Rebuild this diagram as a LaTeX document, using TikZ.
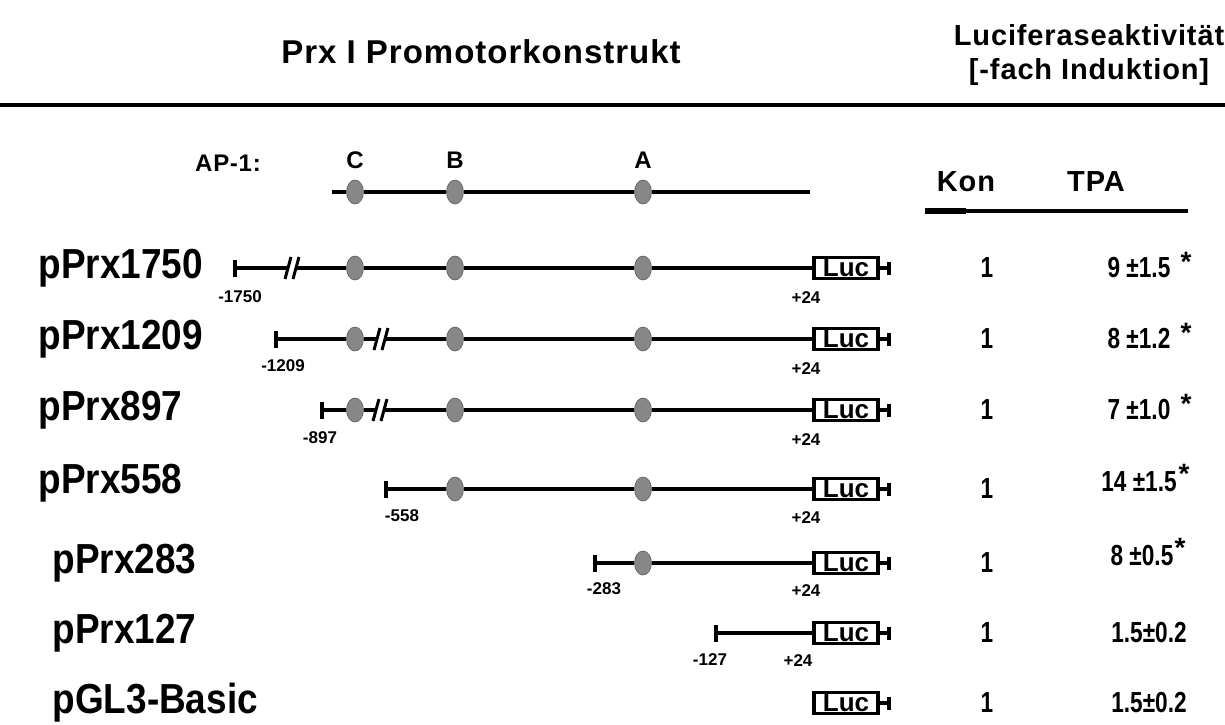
\documentclass[tikz,border=0pt]{standalone}
\usepackage{fontspec}
\setmainfont{Liberation Sans}
\newfontfamily\labelfont{Liberation Sans}[FakeStretch=0.88]
\newfontfamily\valfont{Liberation Sans}[FakeStretch=0.78]
\newfontfamily\widefont{Liberation Sans}[LetterSpace=3]
\usetikzlibrary{shapes.geometric,arrows.meta}

\definecolor{sitegray}{RGB}{135,135,135}

\tikzset{
  dna/.style={line width=4pt},
  site/.style={ellipse, draw=gray!70!black, line width=0.6pt, fill=sitegray, minimum width=17pt, minimum height=24pt, inner sep=0pt},
  lucbox/.style={draw, line width=3.5pt, minimum width=64pt, minimum height=21pt, inner sep=0pt, font=\bfseries\fontsize{26}{26}\selectfont},
  cname/.style={anchor=west, font=\labelfont\bfseries\fontsize{42}{42}\selectfont},
  bplabel/.style={font=\bfseries\fontsize{17}{17}\selectfont},
  val/.style={font=\valfont\bfseries\fontsize{29}{29}\selectfont},
  sigmark/.style={font=\bfseries\fontsize{28}{28}\selectfont},
  head/.style={font=\widefont\bfseries\fontsize{24}{24}\selectfont}
}

% break mark on a line
\newcommand{\brkmark}[1]{%
  \begin{scope}[shift={(#1)}]
    \fill[white] (-4,10) -- (2,10) -- (4,-10) -- (-2,-10) -- cycle;
    \draw[line width=3pt] (-7,11) -- (-1,-11);
    \draw[line width=3pt] (1,11) -- (7,-11);
  \end{scope}}

\begin{document}
\begin{tikzpicture}[x=1pt, y=-1pt]
  \useasboundingbox (0,0) rectangle (1225,724);

  % headings
  \node[font=\widefont\bfseries\fontsize{33}{33}\selectfont] (title) at (481,52) {Prx I Promotorkonstrukt};
  \node[font=\widefont\bfseries\fontsize{29}{34}\selectfont, align=center] (luci) at (1089,55) {Luciferaseaktivität\\{}{[}-fach Induktion{]}};
  \coordinate (r0) at (0,105);
  \coordinate (r1) at (1225,105);
  \draw[dna] (r0) -- (r1);

  % AP-1 sites
  \node[head] (ap) at (228,163) {AP-1:};
  \node[head] (lc) at (355,160) {C};
  \node[head] (lb) at (455,160) {B};
  \node[head] (la) at (643,160) {A};
  \coordinate (t0) at (332,192);
  \coordinate (t9) at (810,192);
  \node[site] (ct) at (355,192) {};
  \node[site] (bt) at (455,192) {};
  \node[site] (at) at (643,192) {};
  \draw[dna] (t0) -- (ct) -- (bt) -- (at) -- (t9);

  % columns
  \node[font=\widefont\bfseries\fontsize{29}{29}\selectfont] (kon) at (966,182) {Kon};
  \node[font=\widefont\bfseries\fontsize{29}{29}\selectfont] (tpa) at (1096,182) {TPA};
  \coordinate (u0) at (925,211);
  \coordinate (um) at (966,211);
  \coordinate (u1) at (1188,211);
  \draw[dna] (u0) -- (u1);
  \draw[line width=6pt] (u0) -- (um);

  % pPrx1750
  \node[cname] (n1) at (35,268) {pPrx1750};
  \coordinate (s1) at (233,268);
  \node[site] (c1) at (355,268) {};
  \node[site] (b1) at (455,268) {};
  \node[site] (a1) at (643,268) {};
  \node[lucbox] (luc1) at (846,268) {Luc};
  \coordinate (e1) at (891,268);
  \draw[dna, {Bar[width=17pt]}-] (s1) -- (c1);
  \draw[dna] (c1) -- (b1) -- (a1) -- (luc1);
  \draw[dna, -{Bar[width=13pt]}] (luc1) -- (e1);
  \brkmark{292,268}
  \node[bplabel] (p1) at (240,297) {-1750};
  \node[bplabel] (q1) at (806,298) {+24};
  \node[val] (k1) at (987,268) {1};
  \node[val] (v1) at (1139,268) {9 ±1.5};
  \node[sigmark] (x1) at (1186,262) {*};

  % pPrx1209
  \node[cname] (n2) at (35,339) {pPrx1209};
  \coordinate (s2) at (274,339);
  \node[site] (c2) at (355,339) {};
  \node[site] (b2) at (455,339) {};
  \node[site] (a2) at (643,339) {};
  \node[lucbox] (luc2) at (846,339) {Luc};
  \coordinate (e2) at (891,339);
  \draw[dna, {Bar[width=17pt]}-] (s2) -- (c2);
  \draw[dna] (c2) -- (b2) -- (a2) -- (luc2);
  \draw[dna, -{Bar[width=13pt]}] (luc2) -- (e2);
  \brkmark{381,339}
  \node[bplabel] (p2) at (283,366) {-1209};
  \node[bplabel] (q2) at (806,369) {+24};
  \node[val] (k2) at (987,339) {1};
  \node[val] (v2) at (1139,339) {8 ±1.2};
  \node[sigmark] (x2) at (1186,333) {*};

  % pPrx897
  \node[cname] (n3) at (35,410) {pPrx897};
  \coordinate (s3) at (320,410);
  \node[site] (c3) at (355,410) {};
  \node[site] (b3) at (455,410) {};
  \node[site] (a3) at (643,410) {};
  \node[lucbox] (luc3) at (846,410) {Luc};
  \coordinate (e3) at (891,410);
  \draw[dna, {Bar[width=17pt]}-] (s3) -- (c3);
  \draw[dna] (c3) -- (b3) -- (a3) -- (luc3);
  \draw[dna, -{Bar[width=13pt]}] (luc3) -- (e3);
  \brkmark{380,410}
  \node[bplabel] (p3) at (320,438) {-897};
  \node[bplabel] (q3) at (806,440) {+24};
  \node[val] (k3) at (987,410) {1};
  \node[val] (v3) at (1139,410) {7 ±1.0};
  \node[sigmark] (x3) at (1186,404) {*};

  % pPrx558
  \node[cname] (n4) at (35,483) {pPrx558};
  \coordinate (s4) at (384,489);
  \node[site] (b4) at (455,489) {};
  \node[site] (a4) at (643,489) {};
  \node[lucbox] (luc4) at (846,489) {Luc};
  \coordinate (e4) at (891,489);
  \draw[dna, {Bar[width=17pt]}-] (s4) -- (b4);
  \draw[dna] (b4) -- (a4) -- (luc4);
  \draw[dna, -{Bar[width=13pt]}] (luc4) -- (e4);
  \node[bplabel] (p4) at (402,516) {-558};
  \node[bplabel] (q4) at (806,518) {+24};
  \node[val] (k4) at (987,489) {1};
  \node[val] (v4) at (1139,482) {14 ±1.5};
  \node[sigmark] (x4) at (1184,474) {*};

  % pPrx283
  \node[cname] (n5) at (49,563) {pPrx283};
  \coordinate (s5) at (593,563);
  \node[site] (a5) at (643,563) {};
  \node[lucbox] (luc5) at (846,563) {Luc};
  \coordinate (e5) at (891,563);
  \draw[dna, {Bar[width=17pt]}-] (s5) -- (a5);
  \draw[dna] (a5) -- (luc5);
  \draw[dna, -{Bar[width=13pt]}] (luc5) -- (e5);
  \node[bplabel] (p5) at (604,589) {-283};
  \node[bplabel] (q5) at (806,591) {+24};
  \node[val] (k5) at (987,563) {1};
  \node[val] (v5) at (1142,556) {8 ±0.5};
  \node[sigmark] (x5) at (1180,548) {*};

  % pPrx127
  \node[cname] (n6) at (49,633) {pPrx127};
  \coordinate (s6) at (714,633);
  \node[lucbox] (luc6) at (846,633) {Luc};
  \coordinate (e6) at (891,633);
  \draw[dna, {Bar[width=17pt]}-] (s6) -- (luc6);
  \draw[dna, -{Bar[width=13pt]}] (luc6) -- (e6);
  \node[bplabel] (p6) at (710,660) {-127};
  \node[bplabel] (q6) at (798,661) {+24};
  \node[val] (k6) at (987,633) {1};
  \node[val] (v6) at (1149,633) {1.5±0.2};

  % pGL3-Basic
  \node[cname] (n7) at (49,703) {pGL3-Basic};
  \node[lucbox] (luc7) at (846,703) {Luc};
  \coordinate (e7) at (891,703);
  \draw[dna, -{Bar[width=13pt]}] (luc7) -- (e7);
  \node[val] (k7) at (987,703) {1};
  \node[val] (v7) at (1149,703) {1.5±0.2};
\end{tikzpicture}
\end{document}
